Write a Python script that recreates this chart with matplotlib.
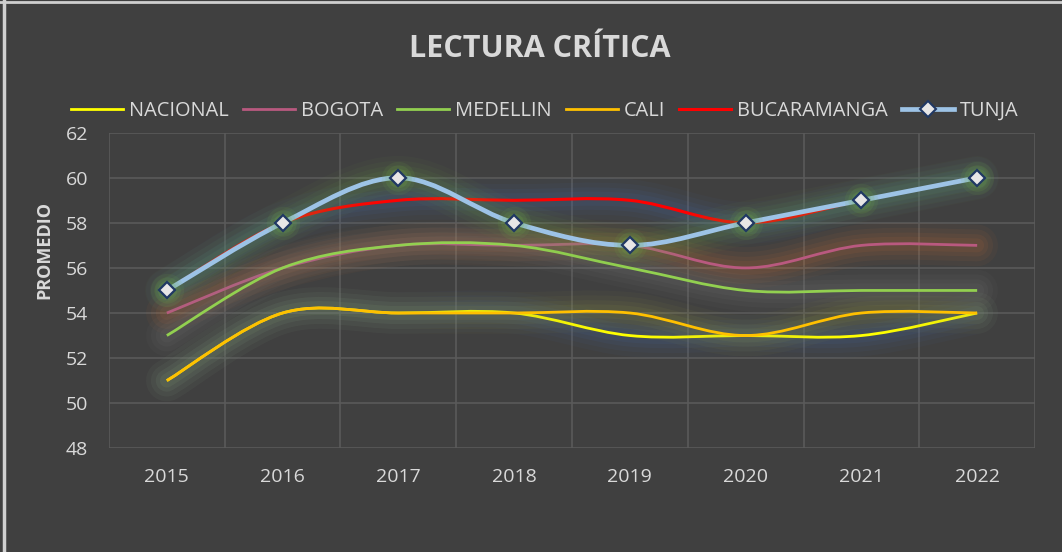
import numpy as np
import matplotlib
matplotlib.use("Agg")
import matplotlib.pyplot as plt
from matplotlib.path import Path
from matplotlib.patches import PathPatch
from matplotlib.lines import Line2D
import matplotlib.patheffects as pe

years = [2015, 2016, 2017, 2018, 2019, 2020, 2021, 2022]
nacional = [51, 54, 54, 54, 53, 53, 53, 54]
bogota = [54, 56, 57, 57, 57, 56, 57, 57]
medellin = [53, 56, 57, 57, 56, 55, 55, 55]
cali = [51, 54, 54, 54, 54, 53, 54, 54]
bucaramanga = [55, 58, 59, 59, 59, 58, 59, 60]
tunja = [55, 58, 60, 58, 57, 58, 59, 60]

series = [
    ("NACIONAL", nacional, "#FFFF00", 2.0, "#4472C4"),
    ("BOGOTA", bogota, "#B9597F", 2.0, "#ED7D31"),
    ("MEDELLIN", medellin, "#92D050", 2.0, "#8C8C8C"),
    ("CALI", cali, "#FFC000", 2.0, "#A9B040"),
    ("BUCARAMANGA", bucaramanga, "#FF0000", 2.2, "#4472C4"),
    ("TUNJA", tunja, "#9DC3E6", 3.4, "#70AD47"),
]

BG = "#404040"
TXT = "#D9D9D9"
FONT = "Open Sans"


def smooth_path(xs, ys):
    # excel-like smoothed line: cubic bezier through each point
    pts = np.column_stack([xs, ys]).astype(float)
    n = len(pts)
    verts = [pts[0]]
    codes = [Path.MOVETO]
    for i in range(n - 1):
        p0 = pts[i - 1] if i > 0 else pts[i]
        p1 = pts[i]
        p2 = pts[i + 1]
        p3 = pts[i + 2] if i + 2 < n else pts[i + 1]
        c1 = p1 + (p2 - p0) / 6.0
        c2 = p2 - (p3 - p1) / 6.0
        verts += [c1, c2, p2]
        codes += [Path.CURVE4] * 3
    return Path(verts, codes)


def glow(color, lw):
    effects = []
    for w, a in [(lw + 28, 0.045), (lw + 21, 0.055), (lw + 14, 0.065), (lw + 8, 0.075)]:
        effects.append(pe.Stroke(linewidth=w, foreground=color, alpha=a,
                                 capstyle="round"))
    effects.append(pe.Normal())
    return effects


fig = plt.figure(figsize=(10.62, 5.52), dpi=100, facecolor=BG)
ax = fig.add_axes([0.1026, 0.188, 0.872, 0.5716])
ax.set_facecolor(BG)

for name, vals, color, lw, gcol in series:
    patch = PathPatch(smooth_path(years, vals), fill=False, edgecolor=color,
                      linewidth=lw, capstyle="butt", joinstyle="round",
                      path_effects=glow(gcol, lw), zorder=3)
    ax.add_patch(patch)

# soft green halo behind tunja markers
for ms, a in [(24, 0.10), (19, 0.14), (14, 0.18)]:
    ax.plot(years, tunja, linestyle="none", marker="o", markersize=ms,
            markerfacecolor="#70AD47", markeredgewidth=0, alpha=a, zorder=4)
ax.plot(years, tunja, linestyle="none", marker="D", markersize=8.5,
        markerfacecolor="#E7E6E6", markeredgecolor="#203864",
        markeredgewidth=1.6, zorder=5)

ax.set_xlim(2014.5, 2022.5)
ax.set_ylim(48, 62)
ax.set_yticks(np.arange(48, 63, 2))
ax.set_xticks(years)
ax.set_xticks(np.arange(2014.5, 2023, 1), minor=True)
ax.grid(True, axis="y", which="major", color="#5A5A5A", linewidth=1.2)
ax.grid(True, axis="x", which="minor", color="#5A5A5A", linewidth=1.2)
ax.grid(False, axis="x", which="major")
ax.set_axisbelow(True)
for s in ax.spines.values():
    s.set_visible(False)
ax.tick_params(axis="both", which="both", length=0, colors=TXT, labelsize=14)
ax.tick_params(axis="x", pad=14)
ax.tick_params(axis="y", pad=15)
for lab in ax.get_xticklabels() + ax.get_yticklabels():
    lab.set_fontfamily(FONT)
    lab.set_color(TXT)

fig.text(0.508, 0.912, "LECTURA CRÍTICA", ha="center", va="center",
         fontsize=22, fontweight="bold", color=TXT, family=FONT)
fig.text(0.042, 0.547, "PROMEDIO", ha="center", va="center", rotation=90,
         fontsize=13, fontweight="bold", color=TXT, family=FONT)

handles = []
for name, vals, color, lw, gcol in series:
    if name == "TUNJA":
        h = Line2D([], [], color=color, linewidth=lw, marker="D", markersize=8,
                   markerfacecolor="#E7E6E6", markeredgecolor="#203864",
                   markeredgewidth=1.5, markevery=[1])
        h.set_xdata([0, 0.5, 1])
    else:
        h = Line2D([], [], color=color, linewidth=lw)
    handles.append(h)

leg = fig.legend(handles, [s[0] for s in series], loc="center",
                 bbox_to_anchor=(0.513, 0.799), ncol=6, frameon=False,
                 handlelength=2.6, handletextpad=0.3, columnspacing=0.7,
                 prop={"family": FONT, "size": 14.4})
for t in leg.get_texts():
    t.set_color(TXT)

# light frame on left and top edges
fig.add_artist(Line2D([0.0035, 0.0035], [0, 1], transform=fig.transFigure,
                      color="#D0D0D0", linewidth=2.5))
fig.add_artist(Line2D([0, 1], [0.997, 0.997], transform=fig.transFigure,
                      color="#D0D0D0", linewidth=2))

fig.savefig("out.png", dpi=100, facecolor=BG)
